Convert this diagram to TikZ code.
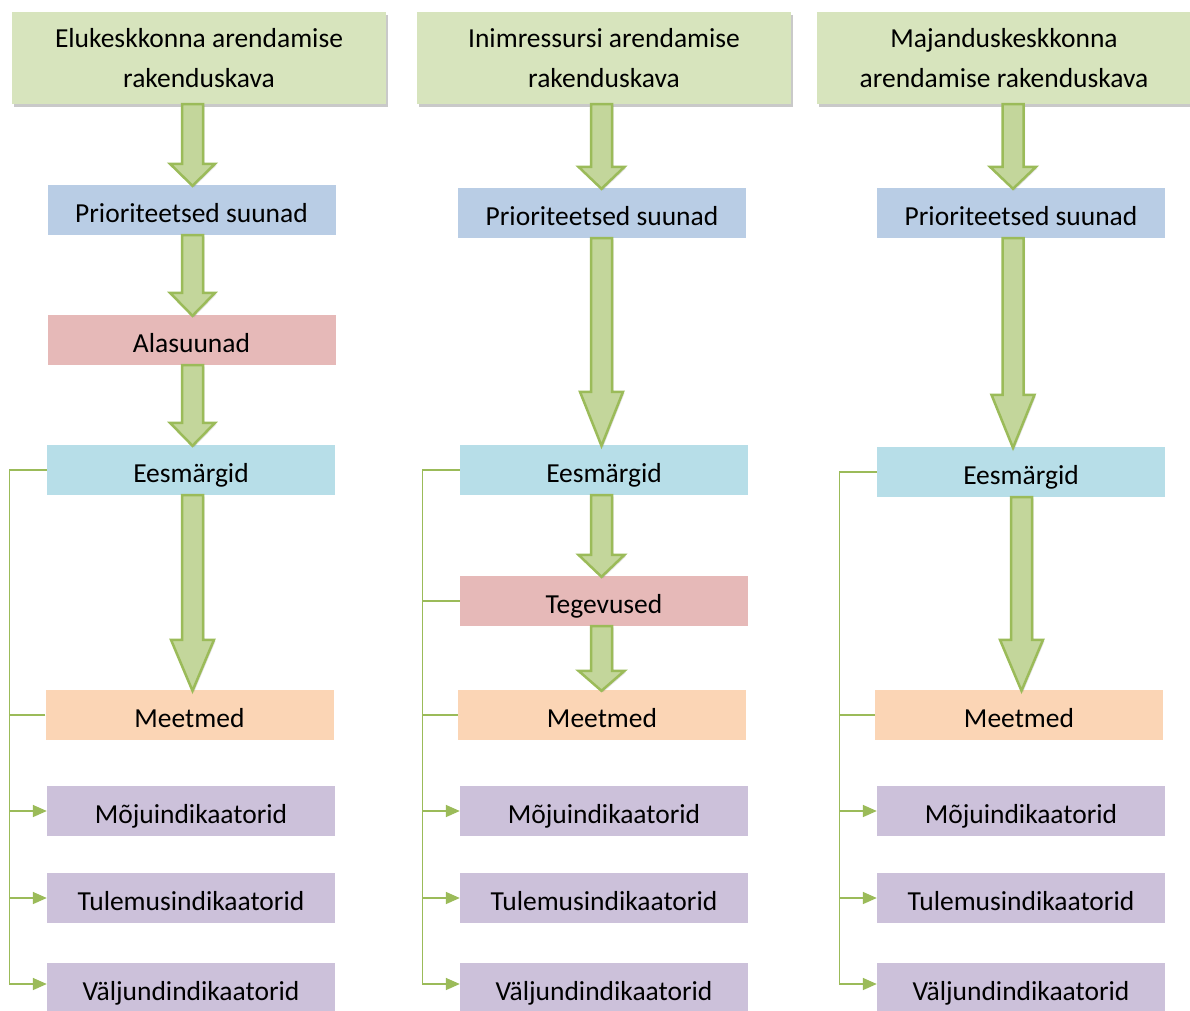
\documentclass[tikz,border=0pt]{standalone}
\usepackage{fontspec}
\setmainfont{Carlito}
\usetikzlibrary{calc,shadows,arrows.meta}
\definecolor{topg}{HTML}{D7E4BD}
\definecolor{prio}{HTML}{B9CDE5}
\definecolor{pink}{HTML}{E6B9B8}
\definecolor{cyanb}{HTML}{B7DEE8}
\definecolor{peach}{HTML}{FBD5B5}
\definecolor{lav}{HTML}{CCC1DA}
\definecolor{arrfill}{HTML}{C3D69B}
\definecolor{arrline}{HTML}{9BBB59}
\tikzset{
  basebox/.style={rectangle, inner sep=0pt, minimum width=288pt, minimum height=50pt,
    font=\fontsize{27.5pt}{40pt}\selectfont, align=center, text=black},
  box/.style={basebox, text height=24pt, text depth=0pt},
  topbox/.style={basebox, fill=topg, minimum width=374pt, minimum height=92pt,
    drop shadow={shadow xshift=2pt, shadow yshift=-3pt, opacity=0.35, fill=black!60}},
  barr/.style={draw=arrline, line width=2.5pt, fill=arrfill, line join=miter,
    drop shadow={shadow xshift=1.5pt, shadow yshift=-1.5pt, opacity=0.18, fill=black!60}},
  brk/.style={draw=arrline, line width=1.6pt},
  brkarr/.style={brk, -{Triangle[length=14pt,width=12pt]}},
}
% #1 from node, #2 to node, #3 x centre, #4 head length, #5 head half-width
\newcommand\barrow[5]{%
  \draw[barr] let \p1=(#1.south), \p2=(#2.north) in
    (#3pt-10.5pt,\y1) -- (#3pt+10.5pt,\y1) -- (#3pt+10.5pt,\y2+#4pt)
    -- (#3pt+#5pt,\y2+#4pt) -- (#3pt,\y2-1pt) -- (#3pt-#5pt,\y2+#4pt)
    -- (#3pt-10.5pt,\y2+#4pt) -- cycle;
}
\begin{document}
\begin{tikzpicture}[x=1pt,y=-1pt]
\useasboundingbox (0,0) rectangle (1190,1010);
\fill[white] (0,0) rectangle (1190,1010);

% ---------- column 1 ----------
\node[topbox] (t1) at (199,58) {Elukeskkonna arendamise\\rakenduskava};
\node[box, fill=prio]  (p1) at (191.5,210) {Prioriteetsed suunad};
\node[box, fill=pink]  (a1) at (191.5,340) {Alasuunad};
\node[box, fill=cyanb] (e1) at (191,470) {Eesmärgid};
\node[box, fill=peach] (m1) at (189.5,715) {Meetmed};
\node[box, fill=lav]   (mo1) at (191,811) {Mõjuindikaatorid};
\node[box, fill=lav]   (tu1) at (191,898) {Tulemusindikaatorid};
\node[box, fill=lav]   (v1) at (191,988) {Väljundindikaatorid};

% ---------- column 2 ----------
\node[topbox] (t2) at (604,58) {Inimressursi arendamise\\rakenduskava};
\node[box, fill=prio]  (p2) at (602,213) {Prioriteetsed suunad};
\node[box, fill=cyanb] (e2) at (604,470) {Eesmärgid};
\node[box, fill=pink]  (te2) at (604,601) {Tegevused};
\node[box, fill=peach] (m2) at (602,715) {Meetmed};
\node[box, fill=lav]   (mo2) at (604,811) {Mõjuindikaatorid};
\node[box, fill=lav]   (tu2) at (604,898) {Tulemusindikaatorid};
\node[box, fill=lav]   (v2) at (604,988) {Väljundindikaatorid};

% ---------- column 3 ----------
\node[topbox] (t3) at (1004,58) {Majanduskeskkonna\\arendamise rakenduskava};
\node[box, fill=prio]  (p3) at (1021,213) {Prioriteetsed suunad};
\node[box, fill=cyanb] (e3) at (1021,472) {Eesmärgid};
\node[box, fill=peach] (m3) at (1019,715) {Meetmed};
\node[box, fill=lav]   (mo3) at (1021,811) {Mõjuindikaatorid};
\node[box, fill=lav]   (tu3) at (1021,898) {Tulemusindikaatorid};
\node[box, fill=lav]   (v3) at (1021,988) {Väljundindikaatorid};

% ---------- block arrows ----------
\barrow{t1}{p1}{192.5}{21}{22.5}
\barrow{p1}{a1}{192.5}{22}{22.5}
\barrow{a1}{e1}{192.5}{22}{22.5}
\barrow{e1}{m1}{192.5}{50}{21.5}

\barrow{t2}{p2}{601.5}{21}{23}
\barrow{p2}{e2}{601.5}{53}{21.5}
\barrow{e2}{te2}{601.5}{21}{23}
\barrow{te2}{m2}{601.5}{19}{23}

\barrow{t3}{p3}{1013}{21}{23}
\barrow{p3}{e3}{1013}{52}{21.5}
\barrow{e3}{m3}{1021.5}{50}{21.5}

% ---------- brackets ----------
\path (e1.west) ++(-37.5,0) coordinate (top1);
\path (e2.west) ++(-37.5,0) coordinate (top2);
\path (e3.west) ++(-37.5,0) coordinate (top3);
\path (v1.west) ++(-37.5,-4) coordinate (bot1);
\path (v2.west) ++(-37.5,-4) coordinate (bot2);
\path (v3.west) ++(-37.5,-4) coordinate (bot3);

\draw[brk] (e1.west) -- (top1) -- (bot1);
\draw[brk] (m1.west) -- (top1 |- m1.west);
\draw[brkarr] (top1 |- mo1.west) -- (mo1.west);
\draw[brkarr] (top1 |- tu1.west) -- (tu1.west);
\draw[brkarr] (bot1) -- (bot1 -| v1.west);

\draw[brk] (e2.west) -- (top2) -- (bot2);
\draw[brk] (te2.west) -- (top2 |- te2.west);
\draw[brk] (m2.west) -- (top2 |- m2.west);
\draw[brkarr] (top2 |- mo2.west) -- (mo2.west);
\draw[brkarr] (top2 |- tu2.west) -- (tu2.west);
\draw[brkarr] (bot2) -- (bot2 -| v2.west);

\draw[brk] (e3.west) -- (top3) -- (bot3);
\draw[brk] (m3.west) -- (top3 |- m3.west);
\draw[brkarr] (top3 |- mo3.west) -- (mo3.west);
\draw[brkarr] (top3 |- tu3.west) -- (tu3.west);
\draw[brkarr] (bot3) -- (bot3 -| v3.west);
\end{tikzpicture}
\end{document}
